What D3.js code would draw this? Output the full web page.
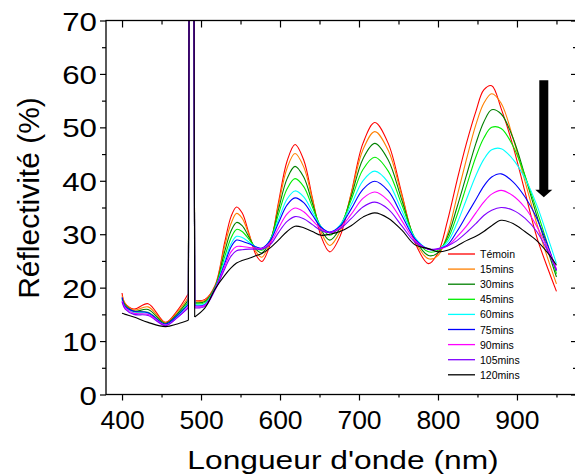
<!DOCTYPE html>
<html>
<head>
<meta charset="utf-8">
<script src="https://cdn.jsdelivr.net/npm/d3@7"></script>
<style>
  html, body { margin: 0; padding: 0; background: #fff; }
  svg { display: block; }
  text { font-family: "Liberation Sans", Arial, sans-serif; fill: #000; }
</style>
</head>
<body>
<svg id="chart" width="575" height="475"></svg>
<script>
// ---------------- DATA ----------------
const wavelengths = [400, 404, 415, 433, 455, 470, 484, 486, 490, 492, 505, 518, 530, 538, 545, 552, 561, 570, 577, 588, 598, 609, 619, 630, 641, 652, 663, 676, 690, 705, 720, 737, 754, 771, 788, 800, 812, 824, 836, 848, 858, 868, 880, 895, 910, 925, 940, 950];

const temoin = [19.0, 17.0, 16.0, 17.0, 13.5, 15.7, 18.9, 150, 150, 17.6, 17.8, 20.5, 28.5, 33.3, 35.1, 34.0, 30.0, 26.0, 24.9, 28.3, 35.9, 43.7, 46.8, 43.9, 36.8, 29.6, 26.7, 29.6, 37.6, 47.0, 50.9, 47.0, 37.7, 28.4, 24.5, 26.5, 32.5, 40.0, 47.0, 53.0, 57.0, 57.8, 53.5, 46.5, 38.0, 29.5, 23.2, 19.3];
const min15  = [18.5, 17.0, 15.8, 16.4, 13.4, 15.4, 18.2, 150, 150, 17.5, 17.6, 20.3, 27.8, 32.0, 33.9, 33.0, 29.8, 26.6, 25.7, 28.7, 35.4, 42.4, 45.1, 42.6, 36.5, 30.4, 27.9, 30.5, 37.5, 45.8, 49.2, 45.7, 37.3, 28.8, 25.4, 26.0, 30.0, 37.0, 44.0, 50.5, 54.5, 56.3, 54.5, 48.0, 40.0, 32.0, 25.0, 20.7];
const min30  = [18.0, 16.8, 15.6, 15.9, 13.3, 15.1, 17.7, 150, 150, 17.2, 17.4, 20.2, 26.8, 30.6, 32.2, 31.6, 29.4, 27.1, 26.5, 29.0, 34.6, 40.4, 42.7, 40.7, 35.8, 30.9, 28.9, 31.1, 37.0, 44.1, 47.0, 43.9, 36.5, 29.1, 26.0, 26.5, 29.5, 35.0, 41.0, 47.0, 51.0, 53.3, 52.5, 48.0, 41.0, 33.5, 26.5, 22.0];
const min45  = [17.8, 16.6, 15.5, 15.4, 13.2, 14.8, 17.3, 150, 150, 17.0, 17.2, 20.1, 25.8, 29.3, 30.9, 30.5, 29.0, 27.4, 27.0, 29.1, 33.7, 38.5, 40.4, 38.9, 35.1, 31.4, 29.8, 31.6, 36.4, 42.1, 44.4, 41.8, 35.6, 29.3, 26.7, 27.0, 29.0, 33.5, 39.0, 44.5, 48.0, 50.0, 49.8, 46.5, 41.0, 34.5, 27.5, 22.6];
const min60  = [17.6, 16.4, 15.3, 15.2, 13.0, 14.6, 17.0, 150, 150, 16.8, 17.0, 20.0, 25.0, 28.2, 29.6, 29.4, 28.5, 27.6, 27.3, 29.0, 32.7, 36.6, 38.1, 37.0, 34.2, 31.4, 30.3, 31.7, 35.5, 40.0, 41.8, 39.7, 34.5, 29.3, 27.2, 27.2, 28.5, 32.0, 36.5, 41.0, 44.0, 45.8, 46.0, 44.0, 40.5, 35.5, 29.0, 24.5];
const min75  = [18.2, 16.5, 15.6, 15.3, 13.2, 14.8, 16.8, 150, 150, 16.6, 16.8, 19.9, 24.5, 27.6, 28.9, 28.7, 28.2, 27.6, 27.4, 28.9, 32.1, 35.5, 36.8, 35.9, 33.6, 31.3, 30.4, 31.5, 34.7, 38.4, 39.9, 38.1, 33.6, 29.1, 27.2, 27.2, 28.0, 30.5, 33.5, 36.5, 39.0, 40.7, 41.3, 39.8, 37.0, 33.0, 27.5, 23.2];
const min90  = [17.5, 16.2, 15.2, 15.0, 13.0, 14.4, 16.4, 150, 150, 16.4, 16.7, 19.8, 24.0, 26.7, 27.7, 27.7, 27.5, 27.4, 27.3, 28.5, 31.1, 33.8, 34.9, 34.2, 32.6, 31.0, 30.3, 31.2, 33.7, 36.7, 37.9, 36.3, 32.6, 28.8, 27.2, 27.2, 27.8, 29.5, 31.5, 34.0, 36.0, 37.5, 38.2, 37.2, 35.0, 31.5, 27.0, 23.5];
const min105 = [17.3, 16.0, 15.0, 14.8, 12.9, 14.4, 16.2, 150, 150, 16.2, 16.5, 19.6, 23.5, 25.9, 26.9, 27.1, 27.2, 27.2, 27.2, 28.1, 30.3, 32.4, 33.3, 32.9, 31.8, 30.7, 30.3, 31.0, 32.9, 35.1, 36.0, 34.7, 31.6, 28.5, 27.2, 27.3, 27.8, 28.8, 30.3, 32.0, 33.5, 34.5, 35.0, 34.5, 33.0, 30.5, 26.5, 23.2];
const min120 = [15.2, 15.0, 14.5, 13.5, 12.7, 13.2, 13.9, 150, 150, 14.5, 16.2, 19.8, 22.3, 23.7, 24.6, 25.1, 25.5, 26.0, 26.4, 27.5, 28.9, 30.5, 31.5, 31.2, 30.5, 29.8, 30.0, 30.5, 31.6, 33.2, 34.0, 33.0, 30.8, 28.0, 27.3, 26.7, 27.0, 27.8, 28.8, 29.6, 30.5, 31.6, 32.6, 32.0, 30.5, 28.8, 26.3, 24.2];

const seriesNames  = ["Témoin", "15mins", "30mins", "45mins", "60mins", "75mins", "90mins", "105mins", "120mins"];
const seriesValues = [temoin, min15, min30, min45, min60, min75, min90, min105, min120];
const seriesColors = ["#ff0000", "#ff8000", "#008000", "#00ee00", "#00ffff", "#0000ff", "#ff00ff", "#8000ff", "#000000"];

const xMajorTicks = [400, 500, 600, 700, 800, 900];
const xMinorTicks = [450, 550, 650, 750, 850, 950];
const yMajorTicks = [0, 10, 20, 30, 40, 50, 60, 70];
const yMinorTicks = [5, 15, 25, 35, 45, 55, 65];

const xTitle = "Longueur d'onde (nm)";
const yTitle = "Réflectivité (%)";

// ---------------- LAYOUT ----------------
const svg = d3.select("#chart");
const L = 106, R = 577, T = 20.5, B = 394.5;

const x = d3.scaleLinear().domain([379.7, 976]).range([L, R]);
const y = d3.scaleLinear().domain([0, 70]).range([B, T]);

svg.append("defs").append("clipPath").attr("id", "plotclip")
  .append("rect").attr("x", L).attr("y", T).attr("width", R - L).attr("height", B - T);

// curves: smooth parts with Catmull-Rom, the detector spike drawn straight
const smooth = d3.line().x(d => x(d[0])).y(d => y(d[1])).curve(d3.curveCatmullRom.alpha(0.5));
const straight = d3.line().x(d => x(d[0])).y(d => y(d[1]));

const gCurves = svg.append("g").attr("clip-path", "url(#plotclip)");
seriesValues.forEach((vals, i) => {
  const pts = wavelengths.map((w, j) => [w, vals[j]]);
  const iS0 = wavelengths.indexOf(486), iS1 = wavelengths.indexOf(490);
  const pre = pts.slice(0, iS0);
  const spike = pts.slice(iS0 - 1, iS1 + 2);
  const post = pts.slice(iS1 + 1);
  const g = gCurves.append("g")
    .attr("fill", "none")
    .attr("stroke", seriesColors[i])
    .attr("stroke-width", 1.1)
    .attr("stroke-linejoin", "round");
  g.append("path").attr("d", smooth(pre));
  g.append("path").attr("d", straight(spike));
  g.append("path").attr("d", smooth(post));
});

// axes
function styleAxis(g) {
  g.select(".domain").remove();
  g.selectAll(".tick line").attr("stroke", "#000").attr("stroke-width", 1.2);
}
// bottom
const gB = svg.append("g").attr("transform", `translate(0,${B})`)
  .call(d3.axisBottom(x).tickValues(xMajorTicks).tickSize(6).tickPadding(11));
styleAxis(gB);
gB.selectAll(".tick text").attr("font-size", 25).attr("font-family", "Liberation Sans, Arial, sans-serif")
  .attr("fill", "#000").attr("dy", "0.71em")
  .attr("transform", "scale(1.06,1)");
svg.append("g").attr("transform", `translate(0,${B})`)
  .call(d3.axisBottom(x).tickValues(xMinorTicks).tickSize(3).tickFormat(""))
  .call(styleAxis);
// top (ticks inward)
svg.append("g").attr("transform", `translate(0,${T})`)
  .call(d3.axisBottom(x).tickValues(xMajorTicks).tickSize(7).tickFormat(""))
  .call(styleAxis);
svg.append("g").attr("transform", `translate(0,${T})`)
  .call(d3.axisBottom(x).tickValues(xMinorTicks).tickSize(4).tickFormat(""))
  .call(styleAxis);
// left
const gL = svg.append("g").attr("transform", `translate(${L},0)`)
  .call(d3.axisLeft(y).tickValues(yMajorTicks).tickSize(6).tickPadding(4));
styleAxis(gL);
gL.selectAll(".tick text").attr("font-size", 25).attr("font-family", "Liberation Sans, Arial, sans-serif")
  .attr("fill", "#000")
  .attr("transform", "translate(-9,1.5) scale(1.25,1)")
  .attr("x", 0);
svg.append("g").attr("transform", `translate(${L},0)`)
  .call(d3.axisLeft(y).tickValues(yMinorTicks).tickSize(4).tickFormat(""))
  .call(styleAxis);
// right (ticks inward)
svg.append("g").attr("transform", `translate(${R},0)`)
  .call(d3.axisLeft(y).tickValues(yMajorTicks).tickSize(6).tickFormat(""))
  .call(styleAxis);
svg.append("g").attr("transform", `translate(${R},0)`)
  .call(d3.axisLeft(y).tickValues(yMinorTicks).tickSize(4).tickFormat(""))
  .call(styleAxis);

// frame
svg.append("rect").attr("x", L).attr("y", T).attr("width", R - L).attr("height", B - T)
  .attr("fill", "none").attr("stroke", "#000").attr("stroke-width", 1.3);

// titles
svg.append("text")
  .attr("transform", `translate(343,469) scale(1.27,1)`)
  .attr("text-anchor", "middle")
  .attr("font-size", 25)
  .text(xTitle);
svg.append("text")
  .attr("transform", `translate(39,198) rotate(-90)`)
  .attr("text-anchor", "middle")
  .attr("font-size", 30)
  .text(yTitle);

// arrow
const arrowTop = y(58.8), shaftEnd = y(38.3), tip = y(36.9);
const ax = 543.8;
svg.append("path")
  .attr("d", `M${ax - 4.5},${arrowTop} L${ax + 4.5},${arrowTop} L${ax + 4.5},${shaftEnd} L${ax + 8.5},${shaftEnd} L${ax},${tip} L${ax - 8.5},${shaftEnd} L${ax - 4.5},${shaftEnd} Z`)
  .attr("fill", "#000");

// legend
const legY0 = 254, legDy = 15.1;
const gLeg = svg.append("g");
seriesNames.forEach((name, i) => {
  const yy = legY0 + i * legDy;
  gLeg.append("line").attr("x1", 448).attr("x2", 475).attr("y1", yy).attr("y2", yy)
    .attr("stroke", seriesColors[i]).attr("stroke-width", 1.3);
  gLeg.append("text").attr("x", 480).attr("y", yy + 4).attr("font-size", 10.5).text(name);
});
</script>
</body>
</html>
